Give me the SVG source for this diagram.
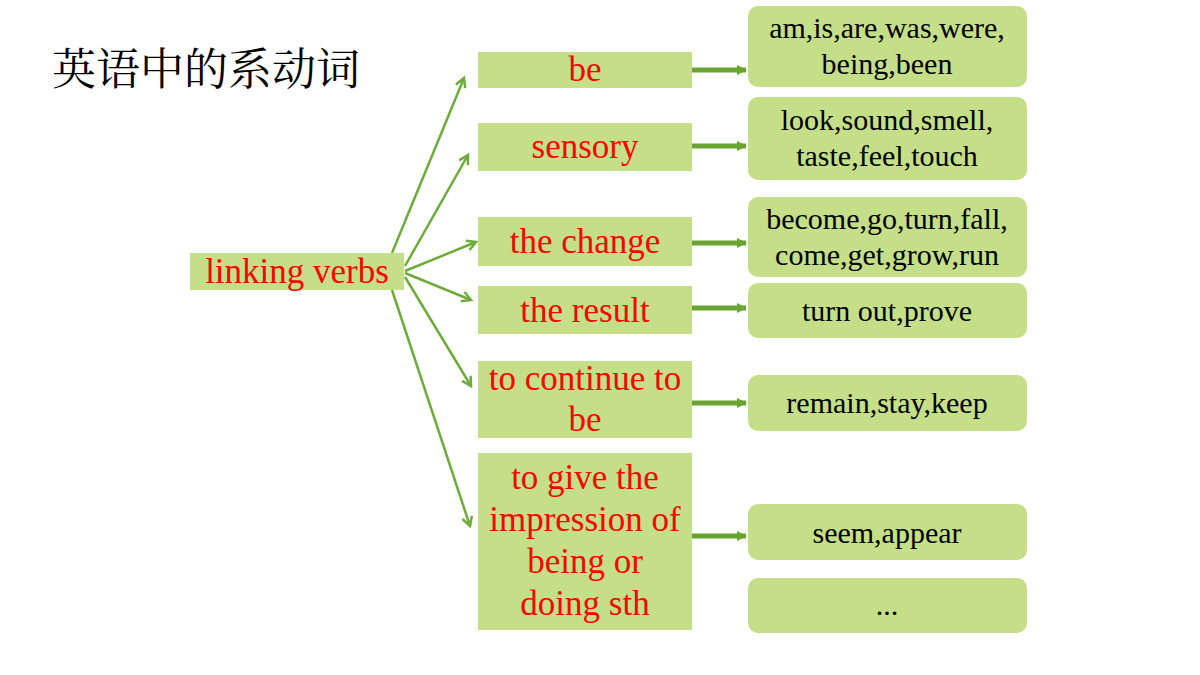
<svg xmlns="http://www.w3.org/2000/svg" width="1200" height="675" viewBox="0 0 1200 675">
<defs>
<style>
.box{fill:#c4df87}
.rt{font-family:'Liberation Serif',serif;font-size:35px;fill:#ff0000;text-anchor:middle}
.bt{font-family:'Liberation Serif',serif;font-size:30px;fill:#000;text-anchor:middle}
.title{font-family:'Noto Serif CJK SC','Noto Sans CJK SC',serif;font-size:44px;fill:#000}
.diag{stroke:#6fab3c;stroke-width:2.5;fill:none;marker-end:url(#open)}
.hz{stroke:#6aa431;stroke-width:5;fill:none;marker-end:url(#solid)}
</style>
<marker id="open" markerWidth="14" markerHeight="14" refX="10" refY="6" orient="auto" markerUnits="userSpaceOnUse">
<polyline points="1,1 10,6 1,11" fill="none" stroke="#6fab3c" stroke-width="2.5"/>
</marker>
<marker id="solid" markerWidth="12" markerHeight="12" refX="9" refY="6" orient="auto" markerUnits="userSpaceOnUse">
<polygon points="0,1 10,6 0,11" fill="#6aa431"/>
</marker>
</defs>
<rect width="1200" height="675" fill="#fff"/>
<text class="title" x="52" y="85">英语中的系动词</text>

<g id="connectors">
<line class="diag" x1="392" y1="253" x2="464" y2="78"/>
<line class="diag" x1="405" y1="266" x2="468" y2="155"/>
<line class="diag" x1="405" y1="271" x2="476" y2="242"/>
<line class="diag" x1="405" y1="273" x2="471" y2="300"/>
<line class="diag" x1="405" y1="277" x2="471" y2="386"/>
<line class="diag" x1="392" y1="290" x2="470" y2="526"/>
<line class="hz" x1="692" y1="70" x2="746" y2="70"/>
<line class="hz" x1="692" y1="146" x2="746" y2="146"/>
<line class="hz" x1="692" y1="243" x2="746" y2="243"/>
<line class="hz" x1="692" y1="308" x2="746" y2="308"/>
<line class="hz" x1="692" y1="403" x2="746" y2="403"/>
<line class="hz" x1="692" y1="536" x2="746" y2="536"/>
</g>

<g id="linking"><rect class="box" x="190" y="253" width="214" height="37"/><text class="rt" x="297" y="283">linking verbs</text></g>
<g id="m-be"><rect class="box" x="478" y="52" width="214" height="36"/><text class="rt" x="585" y="81">be</text></g>
<g id="m-sensory"><rect class="box" x="478" y="123" width="214" height="48"/><text class="rt" x="585" y="158">sensory</text></g>
<g id="m-change"><rect class="box" x="478" y="217" width="214" height="49"/><text class="rt" x="585" y="253">the change</text></g>
<g id="m-result"><rect class="box" x="478" y="286" width="214" height="48"/><text class="rt" x="585" y="322">the result</text></g>
<g id="m-continue"><rect class="box" x="478" y="361" width="214" height="77"/><text class="rt" x="585" y="390">to continue to</text><text class="rt" x="585" y="431">be</text></g>
<g id="m-give"><rect class="box" x="478" y="453" width="214" height="177"/><text class="rt" x="585" y="489">to give the</text><text class="rt" x="585" y="531">impression of</text><text class="rt" x="585" y="573">being or</text><text class="rt" x="585" y="615">doing sth</text></g>

<g id="r1"><rect class="box" x="748" y="6" width="279" height="81" rx="10"/><text class="bt" x="887" y="38">am,is,are,was,were,</text><text class="bt" x="887" y="74">being,been</text></g>
<g id="r2"><rect class="box" x="748" y="97" width="279" height="83" rx="10"/><text class="bt" x="887" y="130">look,sound,smell,</text><text class="bt" x="887" y="166">taste,feel,touch</text></g>
<g id="r3"><rect class="box" x="748" y="197" width="279" height="80" rx="10"/><text class="bt" x="887" y="229">become,go,turn,fall,</text><text class="bt" x="887" y="265">come,get,grow,run</text></g>
<g id="r4"><rect class="box" x="748" y="283" width="279" height="55" rx="10"/><text class="bt" x="887" y="321">turn out,prove</text></g>
<g id="r5"><rect class="box" x="748" y="375" width="279" height="56" rx="10"/><text class="bt" x="887" y="413">remain,stay,keep</text></g>
<g id="r6"><rect class="box" x="748" y="504" width="279" height="56" rx="10"/><text class="bt" x="887" y="543">seem,appear</text></g>
<g id="r7"><rect class="box" x="748" y="578" width="279" height="55" rx="10"/><text class="bt" x="887" y="615">...</text></g>
</svg>
